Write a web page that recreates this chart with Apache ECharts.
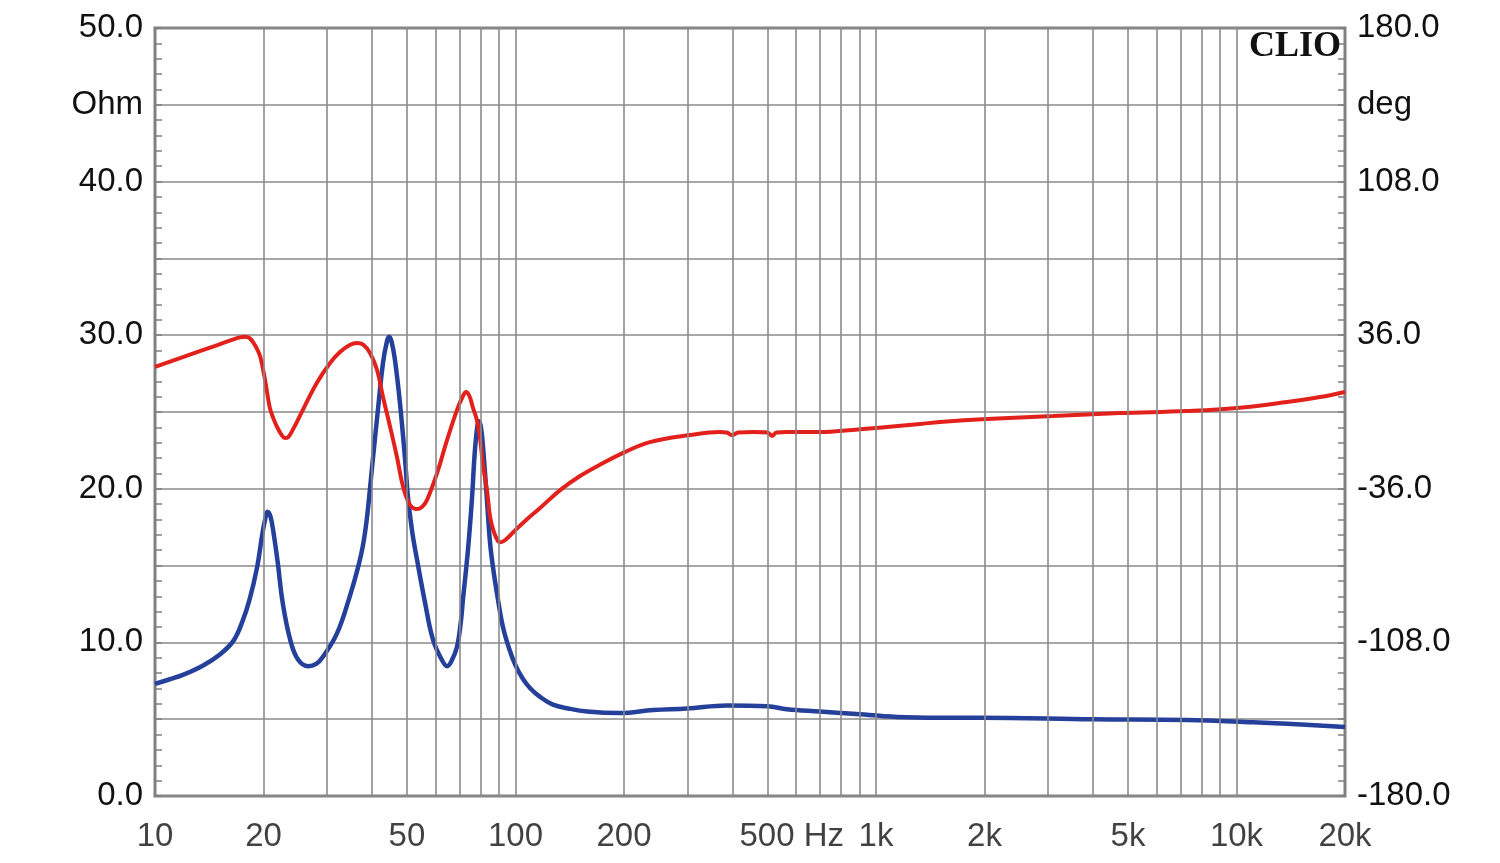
<!DOCTYPE html>
<html><head><meta charset="utf-8">
<script src="https://cdn.jsdelivr.net/npm/echarts@6/dist/echarts.min.js"></script>
<style>html,body{margin:0;padding:0;background:#fff}#c{width:1500px;height:863px}</style>
</head><body><div id="c"></div>
<script>
// Impedance magnitude [Hz, Ohm]
const impedance = [[10,7.3],[11,7.6],[12,7.9],[13.6,8.5],[15.1,9.2],[16.5,10.1],[17.5,11.4],[18.3,12.8],[19.2,14.9],[19.8,16.9],[20.2,18.0],[20.5,18.5],[20.9,18.2],[21.3,17.2],[21.9,15.2],[22.6,12.6],[23.7,10.2],[24.9,8.9],[26.6,8.45],[28,8.6],[29.2,9.05],[32,10.6],[34.7,13.0],[36.5,14.8],[37.8,16.4],[38.8,18.3],[40.2,21.9],[41.6,25.3],[42.9,28.2],[44,29.6],[44.6,29.9],[45.3,29.6],[46.3,28.4],[47.8,25.6],[49.4,21.9],[50.3,19.5],[51.7,17.2],[53.3,15.4],[56.1,12.6],[59,10.2],[62.5,8.85],[64.6,8.45],[66.5,8.8],[68.8,9.7],[70.5,11.3],[71.5,12.8],[73.8,16.0],[75.7,19.3],[77,22.2],[78.3,24.0],[79.2,24.4],[80.2,24.0],[81.3,22.7],[83.2,19.5],[85,16.5],[86.6,14.9],[89.4,12.8],[92.3,11.0],[96,9.6],[100,8.5],[105,7.6],[110,7.0],[117,6.45],[127,5.95],[140,5.7],[158,5.5],[195,5.4],[241,5.6],[299,5.7],[386,5.9],[500,5.85],[566,5.65],[700,5.5],[863,5.35],[1144,5.15],[1505,5.1],[1943,5.1],[4000,5.0],[7290,4.95],[11110,4.8],[13810,4.7],[20000,4.5]];
// Phase [Hz, deg]
const phase = [[10,21.1],[12,25.8],[14.9,31.4],[16.5,34],[17.2,35.0],[17.8,35.3],[18.3,34.6],[18.8,32.2],[19.2,29.5],[19.6,25.8],[20.2,15.0],[20.8,2.3],[21.3,-3],[21.8,-7.0],[22.4,-10.5],[22.9,-12.2],[23.4,-11.8],[24.1,-8.4],[25.7,0.9],[28.1,13.6],[30.6,23.0],[32.6,28.1],[34.7,31.4],[36.3,32.3],[37.8,31.6],[39.5,27.6],[41.3,19.7],[42.9,7.0],[44.9,-7.0],[46.9,-21.1],[48.8,-35.2],[51,-43.6],[53.3,-45.5],[55,-44.5],[56.8,-41.3],[60.6,-28.6],[64.6,-13.1],[68.8,0.9],[71.5,7.5],[72.9,9.4],[74.5,7.5],[76.2,2],[78.2,-4],[79.7,-12],[81.3,-25],[83.4,-37],[85,-49],[87,-56],[89.4,-60.5],[91,-61],[94,-59.8],[100,-55.3],[108,-50],[117,-45],[133,-36.6],[151,-30],[171,-24.8],[201,-18.8],[236,-14.1],[305,-10.8],[369,-9.4],[385,-9.6],[399,-10.8],[415,-9.6],[456,-9.4],[500,-9.6],[515,-11.2],[530,-9.6],[566,-9.4],[700,-9.4],[863,-8.4],[1073,-7.0],[1325,-5.6],[1505,-4.7],[2032,-3.3],[3097,-1.9],[4753,-0.5],[7290,0.5],[10030,1.9],[13810,4.7],[17050,7.0],[20000,9.4]];
// vertical grid frequencies
const gridFreqs = [20,30,40,50,60,70,80,90,100,200,300,400,500,600,700,800,900,1000,2000,3000,4000,5000,6000,7000,8000,9000,10000];
const xTickValues = [10,20,50,100,200,500,1000,2000,5000,10000,20000];
const xTickLabels = ['10','20','50','100','200','500','1k','2k','5k','10k','20k'];
const leftUnit = 'Ohm';
const rightUnit = 'deg';
const xUnit = 'Hz';

const FONT = 'Liberation Sans, Arial, sans-serif';
const FS = 33;
const GRID_C = '#8a8a8a';
const chart = echarts.init(document.getElementById('c'), null, {renderer:'canvas'});
chart.setOption({
  animation: false,
  backgroundColor: '#fff',
  grid: {left:155, right:155, top:28, bottom:67, show:true, borderColor:'#808080', borderWidth:3, backgroundColor:'#fff'},
  xAxis: {type:'log', logBase:10, min:10, max:20000,
    axisLine:{show:false}, axisTick:{show:false}, axisLabel:{show:false}, splitLine:{show:false}},
  yAxis: [
    {type:'value', min:0, max:50, interval:5, position:'left',
      axisLine:{show:false},
      axisTick:{show:true, inside:true, length:7, lineStyle:{color:'#808080', width:1.5}},
      minorTick:{show:true, splitNumber:5, length:7, lineStyle:{color:'#808080', width:1.5}},
      splitLine:{show:true, lineStyle:{color:GRID_C, width:1.6}},
      axisLabel:{margin:12, fontFamily:FONT, fontSize:FS, color:'#111',
        formatter: v => { v = Math.round(v); if (v===45) return leftUnit; return v%10===0 ? v.toFixed(1) : ''; }}},
    {type:'value', min:-180, max:180, interval:36, position:'right',
      axisLine:{show:false},
      axisTick:{show:true, inside:true, length:7, lineStyle:{color:'#808080', width:1.5}},
      minorTick:{show:true, splitNumber:5, length:7, lineStyle:{color:'#808080', width:1.5}},
      splitLine:{show:false},
      axisLabel:{margin:12, fontFamily:FONT, fontSize:FS, color:'#111',
        formatter: v => { v = Math.round(v); if (v===144) return rightUnit; return (v+180)%72===0 ? v.toFixed(1) : ''; }}}
  ],
  graphic: [{type:'text', right:159, top:29, z:100,
    style:{text:'CLIO', font:'bold 36px "Liberation Serif", "Times New Roman", serif', fill:'#111'}}],
  series: [
    {type:'scatter', name:'ticks', z:1, clip:false, silent:true, symbolSize:1,
      itemStyle:{color:'rgba(0,0,0,0)'},
      data: xTickValues.map((v,i)=>{
        const d = {value:[v,0], label:{formatter: xTickLabels[i]}};
        if (v===500) d.label = {formatter: xTickLabels[i] + ' ' + xUnit, align:'left', offset:[-28,0]};
        return d;
      }),
      label:{show:true, position:'bottom', distance:24, fontFamily:FONT, fontSize:FS, color:'#111'},
      markLine:{silent:true, symbol:['none','none'], animation:false,
        label:{show:false}, lineStyle:{color:GRID_C, width:1.6, type:'solid'},
        emphasis:{disabled:true},
        data: gridFreqs.map(f=>({xAxis:f}))}
    },
    {type:'line', name:'Impedance', yAxisIndex:0, z:3, data:impedance, showSymbol:false, smooth:0.4,
      lineStyle:{color:'#24409a', width:4.5}, itemStyle:{color:'#24409a'}},
    {type:'line', name:'Phase', yAxisIndex:1, z:4, data:phase, showSymbol:false, smooth:0.4,
      lineStyle:{color:'#e2211c', width:4}, itemStyle:{color:'#e2211c'}}
  ]
});
</script></body></html>
